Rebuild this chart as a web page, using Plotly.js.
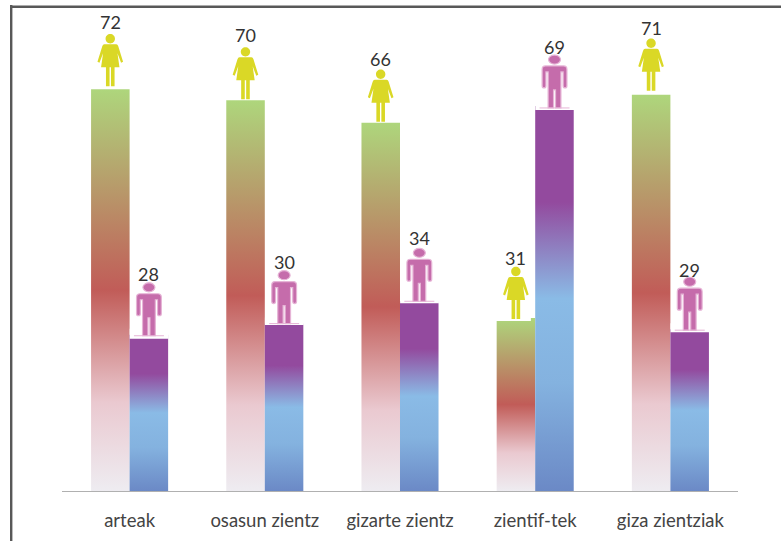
<!DOCTYPE html>
<html>
<head>
<meta charset="utf-8">
<script src="https://cdn.plot.ly/plotly-3.0.1.min.js"></script>
<style>html,body{margin:0;padding:0;background:#fff}#chart{width:781px;height:541px}</style>
</head>
<body>
<div id="chart"></div>
<script>
const categories = ['arteak', 'osasun zientz', 'gizarte zientz', 'zientif-tek', 'giza zientziak'];
const femaleValues = [72, 70, 66, 31, 71];
const maleValues = [28, 30, 34, 69, 29];
const femaleStops = [[0, '#aed67c'], [0.5, '#c15c58'], [0.78, '#eac9d0'], [1, '#eeecf1']];
const maleStops = [[0, '#934a9e'], [0.25, '#934a9e'], [0.5, '#8abbe6'], [0.72, '#84b2df'], [1, '#6b89c6']];

// Hand placement of figures and labels, in pixels relative to each bar top.
const femaleFigureLift = [0, -2, -2, -4, 1];
const maleFigureLift = [-1, 0, 0, -2, -1];
const maleCoverDepth = [4, 1.5, 2, 4, 3];
const femaleLabelLift = [67, 65, 64, 60, 67];
const maleLabelLift = [61, 61.5, 63, 59, 59];

const FEMALE_COLOR = '#dad826', MALE_COLOR = '#c56cab', MALE_HALO = '#e6b4d6', FRAME = '#585858';
const WIDTH = 781, HEIGHT = 541;
const margin = {l: 62, r: 43, t: 20, b: 50};
const BAR_OFFSET = 0.143;

// Closed ellipse in pixel coordinates, built from four bezier arcs.
function ellipse(cx, cy, rx, ry) {
  const k = 0.5523, ax = rx * k, ay = ry * k;
  return `M${cx - rx},${cy} C${cx - rx},${cy + ay} ${cx - ax},${cy + ry} ${cx},${cy + ry} ` +
         `C${cx + ax},${cy + ry} ${cx + rx},${cy + ay} ${cx + rx},${cy} ` +
         `C${cx + rx},${cy - ay} ${cx + ax},${cy - ry} ${cx},${cy - ry} ` +
         `C${cx - ax},${cy - ry} ${cx - rx},${cy - ay} ${cx - rx},${cy} Z`;
}

const femalePath = ellipse(0, 50.5, 4.7, 4.7) +
  ' M-6,45 L6,45 Q7.4,45 8,43 L12.8,27.5 L10.8,26.5 L7.2,36 L9.2,22 L4.3,22 L4.3,3 L0.7,3 L0.7,22 L-0.7,22' +
  ' L-0.7,3 L-4.3,3 L-4.3,22 L-9.2,22 L-7.2,36 L-10.8,26.5 L-12.8,27.5 L-8,43 Q-7.4,45 -6,45 Z';

const malePath = ellipse(0, 48.4, 6, 4.5) +
  ' M-9,42 L9,42 Q12.4,42 12.4,38.5 L12.4,22 Q12.4,20 10.5,20 Q8.6,20 8.6,22 L8.6,36 L6.4,36 L6.4,0 L1,0' +
  ' L1,18 L-1,18 L-1,0 L-6.4,0 L-6.4,36 L-8.6,36 L-8.6,22 Q-8.6,20 -10.5,20 Q-12.4,20 -12.4,22' +
  ' L-12.4,38.5 Q-12.4,42 -9,42 Z';

// Moves every x,y pair of a path string up by dy pixels.
const lifted = (path, dy) => path.replace(/(-?[\d.]+),(-?[\d.]+)/g, (m, x, y) => `${x},${+y + dy}`);

function pixelShape(x, y, path, fill, line, width) {
  return {
    type: 'path', layer: 'above',
    xref: 'x', yref: 'y', xsizemode: 'pixel', ysizemode: 'pixel',
    xanchor: x, yanchor: y, path: path,
    fillcolor: fill, line: {color: line || fill, width: width || 0}
  };
}

const shapes = [];
const annotations = [];
categories.forEach((name, i) => {
  const fx = i - BAR_OFFSET, mx = i + BAR_OFFSET;
  // The one short female bar sits slightly notched under its figure.
  if (femaleValues[i] < maleValues[i]) {
    shapes.push(pixelShape(fx, femaleValues[i], 'M-21,-3 L15,-3 L15,8 L-21,8 Z', '#ffffff'));
  }
  shapes.push(pixelShape(fx, femaleValues[i], lifted(femalePath, femaleFigureLift[i]), FEMALE_COLOR));
  const d = -maleCoverDepth[i], lift = maleFigureLift[i];
  shapes.push(pixelShape(mx, maleValues[i], `M-19.2,${d} L19.6,${d} L19.6,6 L-19.2,6 Z`, '#ffffff'));
  shapes.push(pixelShape(mx, maleValues[i], `M-15,${lift - 0.5} L15,${lift - 0.5} L15,${lift + 0.5} L-15,${lift + 0.5} Z`, MALE_HALO));
  shapes.push(pixelShape(mx, maleValues[i], lifted(malePath, lift), MALE_COLOR, MALE_HALO, 1.2));
  annotations.push({x: fx, y: femaleValues[i], text: String(femaleValues[i]), showarrow: false,
    yanchor: 'middle', yshift: femaleLabelLift[i], font: {family: 'Lato', size: 18, color: '#333333'}});
  annotations.push({x: mx, y: maleValues[i], text: String(maleValues[i]), showarrow: false,
    yanchor: 'middle', yshift: maleLabelLift[i], font: {family: 'Lato', size: 18, color: '#333333'}});
});

// Frame lines along the top and left edges of the page.
const px = v => (v - margin.l) / (WIDTH - margin.l - margin.r);
const py = v => 1 - (v - margin.t) / (HEIGHT - margin.t - margin.b);
shapes.push({type: 'rect', xref: 'paper', yref: 'paper', layer: 'above', x0: px(10), x1: px(12.4), y0: py(541), y1: py(5),
  fillcolor: FRAME, line: {width: 0}});
shapes.push({type: 'rect', xref: 'paper', yref: 'paper', layer: 'above', x0: px(10), x1: px(781), y0: py(8), y1: py(5.4),
  fillcolor: FRAME, line: {width: 0}});

const traces = [
  {type: 'bar', name: 'emakumeak', x: categories, y: femaleValues, marker: {color: '#c15c58', line: {width: 0}}, hoverinfo: 'x+y'},
  {type: 'bar', name: 'gizonak', x: categories, y: maleValues, marker: {color: '#934a9e', line: {width: 0}}, hoverinfo: 'x+y'}
];

const layout = {
  width: WIDTH, height: HEIGHT, margin: margin,
  paper_bgcolor: '#ffffff', plot_bgcolor: '#ffffff',
  barmode: 'group', bargap: 0.43, bargroupgap: 0, showlegend: false,
  xaxis: {type: 'category', showgrid: false, zeroline: false, showline: true, linecolor: '#b0b0b0', linewidth: 1,
    ticks: '', ticklen: 0, ticklabelstandoff: 13, tickfont: {family: 'Lato', size: 18.5, color: '#444444'}, automargin: false},
  yaxis: {range: [0, 84.4], visible: false, fixedrange: true},
  shapes: shapes, annotations: annotations
};

// Plotly bars take flat colours, so vertical gradients are attached to the drawn bars afterwards.
function applyGradients(gd) {
  const svg = gd.querySelector('svg.main-svg');
  const NS = 'http://www.w3.org/2000/svg';
  const defs = svg.querySelector('defs') || svg.insertBefore(document.createElementNS(NS, 'defs'), svg.firstChild);
  [femaleStops, maleStops].forEach((stops, t) => {
    const grad = document.createElementNS(NS, 'linearGradient');
    grad.setAttribute('id', 'barFill' + t);
    grad.setAttribute('x1', '0'); grad.setAttribute('y1', '0');
    grad.setAttribute('x2', '0'); grad.setAttribute('y2', '1');
    stops.forEach(([offset, color]) => {
      const stop = document.createElementNS(NS, 'stop');
      stop.setAttribute('offset', offset);
      stop.setAttribute('stop-color', color);
      grad.appendChild(stop);
    });
    defs.appendChild(grad);
  });
  gd.querySelectorAll('.barlayer .trace').forEach((trace, t) => {
    trace.querySelectorAll('.point path').forEach(p => { p.style.fill = `url(#barFill${t})`; });
  });
}

const gd = document.getElementById('chart');
Plotly.newPlot(gd, traces, layout, {displayModeBar: false, staticPlot: true}).then(() => applyGradients(gd));
</script>
</body>
</html>
